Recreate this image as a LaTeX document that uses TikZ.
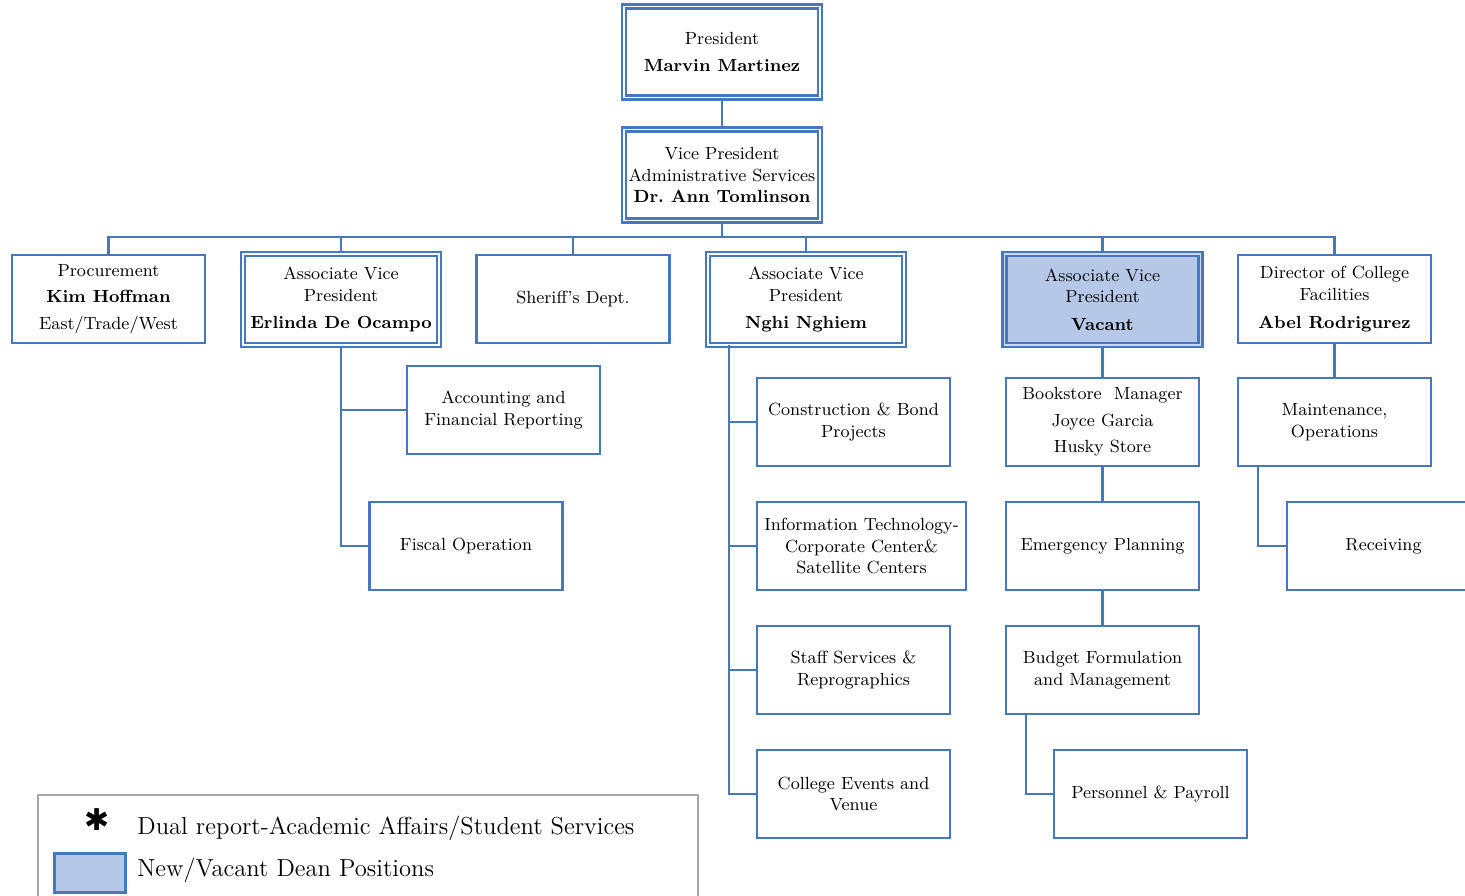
\documentclass[tikz,border=0pt]{standalone}
\usepackage{fontspec}
\newfontfamily\djv{DejaVu Sans}
\definecolor{bblue}{RGB}{70,120,190}
\definecolor{vfill}{RGB}{182,200,232}
\begin{document}
\begin{tikzpicture}[x=0.5pt,y=-0.5pt,
  box/.style={draw=bblue, line width=1.3pt, fill=white, align=center,
    minimum width=96.5pt, minimum height=44pt, inner sep=1pt,
    font=\fontsize{8.8}{10.8}\selectfont},
  dbox/.style={box, double=white, double distance=0.8pt, line width=1.2pt,
    minimum width=98pt, minimum height=45.5pt},
  vbox/.style={dbox, double=vfill!70!white, fill=vfill},
  conn/.style={draw=bblue, line width=1.1pt}]
\useasboundingbox (0,0) rectangle (1465,895);
\clip (0,0) rectangle (1465,895);
\fill[white] (0,0) rectangle (1465,895);

% nodes
\node[dbox] (pres) at (722,52) {President\\[3pt]\textbf{Marvin Martinez}};
\node[dbox] (vp) at (722,175) {Vice President\\Administrative Services\\\textbf{Dr.\ Ann Tomlinson}};

\node[box] (proc) at (108.5,299) {Procurement\\[2.5pt]\textbf{Kim Hoffman}\\[2.5pt]East/Trade/West};
\node[dbox] (avp1) at (341,299.5) {Associate Vice\\President\\[3pt]\textbf{Erlinda De Ocampo}};
\node[box] (sheriff) at (573,299) {Sheriff's Dept.};
\node[dbox] (avp2) at (806,299.5) {Associate Vice\\President\\[3pt]\textbf{Nghi Nghiem}};
\node[vbox] (avp3) at (1102.5,299.5) {Associate Vice\\President\\[3pt]\textbf{Vacant}};
\node[box] (dir) at (1334.5,299) {Director of College\\Facilities\\[3pt]\textbf{Abel Rodrigurez}};

\node[box] (acct) at (503.5,410) {Accounting and\\Financial Reporting};
\node[box] (fiscal) at (466,546) {Fiscal Operation};

\node[box] (cons) at (853.5,422) {Construction \& Bond\\Projects};
\node[box, minimum width=104.5pt] (it) at (861.5,546) {Information Technology-\\Corporate Center\&\\Satellite Centers};
\node[box] (staff) at (853.5,670) {Staff Services \&\\Reprographics};
\node[box] (events) at (853.5,794) {College Events and\\Venue};

\node[box] (book) at (1102.5,422) {Bookstore~ Manager\\[2.5pt]Joyce Garcia\\[2.5pt]Husky Store};
\node[box] (emerg) at (1102.5,546) {Emergency Planning};
\node[box] (budget) at (1102.5,670) {Budget Formulation\\and Management};
\node[box] (pers) at (1150.5,794) {Personnel \& Payroll};

\node[box] (maint) at (1334.5,422) {Maintenance,\\Operations};
\node[box] (recv) at (1383.5,546) {Receiving};

% connectors
\coordinate (bus) at (722,237);
\draw[conn] (pres.south) -- (vp.north);
\draw[conn] (vp.south) -- (bus);
\foreach \n in {proc,avp1,sheriff,avp2,avp3,dir}
  \draw[conn] (\n.north) |- (bus);

\draw[conn] (avp1.south) |- (acct.west);
\draw[conn] (avp1.south) |- (fiscal.west);

\coordinate (nt) at (729,345);
\foreach \n in {cons,it,staff,events}
  \draw[conn] (nt) |- (\n.west);

\draw[conn] (avp3.south) -- (book.north);
\draw[conn] (book.south) -- (emerg.north);
\draw[conn] (emerg.south) -- (budget.north);
\coordinate (bt) at (1026,714);
\draw[conn] (bt) |- (pers.west);

\draw[conn] (dir.south) -- (maint.north);
\coordinate (mt) at (1258,466);
\draw[conn] (mt) |- (recv.west);

% legend
\draw[gray!70, line width=0.7pt] (38,795) rectangle (698,920);
\node[font=\djv\fontsize{15}{15}\selectfont] (star) at (97,820) {✱};
\node[anchor=west, font=\fontsize{12.3}{14}\selectfont, inner sep=0pt] (l1) at (137,828) {Dual report-Academic Affairs/Student Services};
\node[draw=bblue, fill=vfill, line width=1.5pt, minimum width=35.5pt, minimum height=19.5pt, inner sep=0pt] (lbox) at (89.5,873) {};
\node[anchor=west, font=\fontsize{12.3}{14}\selectfont, inner sep=0pt] (l2) at (137,870) {New/Vacant Dean Positions};
\end{tikzpicture}
\end{document}
